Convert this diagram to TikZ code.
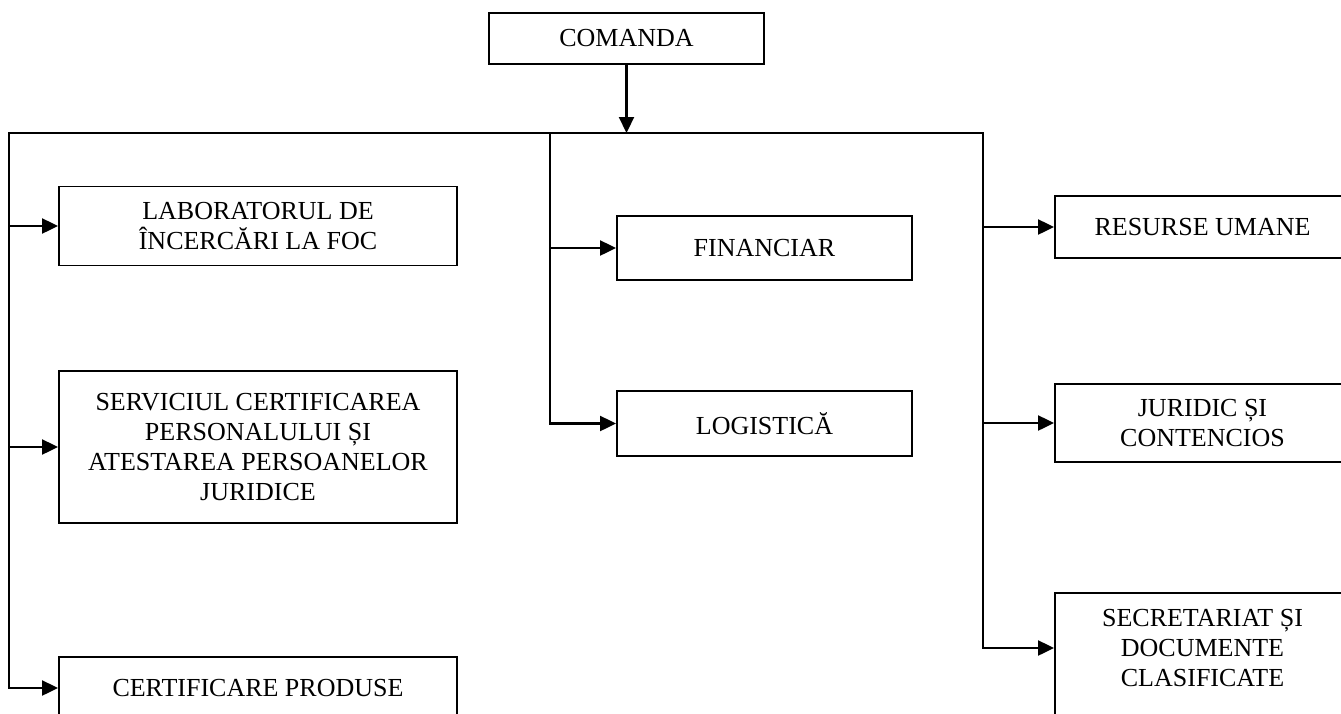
\documentclass[tikz,border=0pt]{standalone}
\usepackage{fontspec}
\setmainfont{Liberation Serif}
\usetikzlibrary{arrows.meta}
\begin{document}
\begin{tikzpicture}[
        x=1pt, y=-1pt,
        unit/.style={draw, line width=1.9pt, align=center, inner sep=0pt, font=\fontsize{26}{30}\selectfont},
        left unit/.style={unit, minimum width=398pt},
        side unit/.style={unit, minimum width=295pt},
        link/.style={line width=2.2pt, line cap=rect},
        arrow/.style={link, -{Triangle[length=16pt,width=15pt]}}
    ]
        \clip (0,0) rectangle (1341,713);

        % Head of the structure
        \node[unit, minimum width=275pt, minimum height=51pt] (comanda) at (626.5,38.5) {COMANDA};

        % Left column
        \node[left unit, minimum height=79pt] (lab) at (258,226) {LABORATORUL DE\\ÎNCERCĂRI LA FOC};
        \node[left unit, minimum height=152pt] (serv) at (258,447) {SERVICIUL CERTIFICAREA\\PERSONALULUI ȘI\\ATESTAREA PERSOANELOR\\JURIDICE};
        \node[left unit, minimum height=62pt] (cert) at (258,688) {CERTIFICARE PRODUSE};

        % Middle column
        \node[side unit, minimum height=64pt] (fin) at (764.5,248) {FINANCIAR};
        \node[side unit, minimum height=65pt] (log) at (764.5,423.5) {LOGISTICĂ};

        % Right column
        \node[side unit, minimum height=62pt] (res) at (1202.5,227) {RESURSE UMANE};
        \node[side unit, minimum height=78pt] (jur) at (1202.5,423) {JURIDIC ȘI\\CONTENCIOS};
        \node[side unit, minimum height=140pt, anchor=north] (sec) at (1202.5,592) {};
        \node[unit, draw=none] (sec-text) at (1202.5,648) {SECRETARIAT ȘI\\DOCUMENTE\\CLASIFICATE};

        % Distribution bus
        \coordinate (busL) at (9,133);
        \coordinate (busM) at (550,133);
        \coordinate (busR) at (983,133);

        \draw[arrow] (comanda.south) -- (comanda.south |- busL);
        \draw[arrow] (busR) -- (busL) |- (cert.west);
        \draw[arrow] (busM) |- (log.west);
        \draw[arrow] (busR) |- (sec.west |- sec-text);

        % Branches off the columns
        \foreach \n in {lab, serv}
            \draw[arrow] (busL |- \n.west) -- (\n.west);
        \draw[arrow] (busM |- fin.west) -- (fin.west);
        \foreach \n in {res, jur}
            \draw[arrow] (busR |- \n.west) -- (\n.west);
    \end{tikzpicture}
\end{document}
